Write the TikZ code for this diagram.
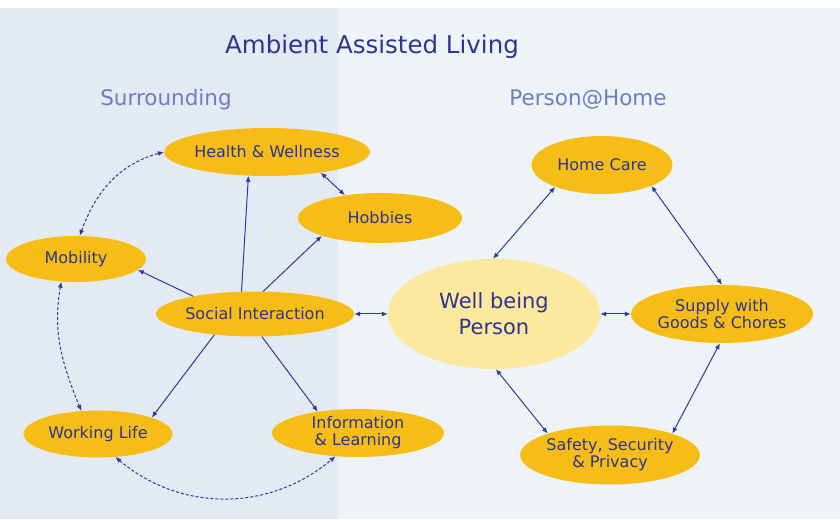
\documentclass[tikz,border=0pt]{standalone}
\usepackage{fontspec}
\setmainfont{DejaVu Sans}
\usetikzlibrary{shapes.geometric,arrows.meta}
\definecolor{navy}{HTML}{2D358F}
\definecolor{softblue}{HTML}{6F7EC2}
\definecolor{aalorange}{HTML}{F7BD17}
\definecolor{aalyellow}{HTML}{FCE89F}
\definecolor{leftpanel}{HTML}{E3EAF3}
\definecolor{rightpanel}{HTML}{EEF3F8}
\definecolor{linkblue}{HTML}{333A96}

\begin{document}
\begin{tikzpicture}[x=1pt,y=1pt,
    area/.style={ellipse,fill=aalorange,text=navy,inner sep=0pt,align=center,
      font=\fontsize{16}{17}\selectfont},
    link/.style={draw=linkblue,line width=1pt,{Latex[length=6pt,width=5pt]}-{Latex[length=6pt,width=5pt]}},
    out link/.style={draw=linkblue,line width=1pt,-{Latex[length=6pt,width=5pt]}},
    loop link/.style={link,densely dashed}]
    \useasboundingbox (0,0) rectangle (840,519);
    \fill[rightpanel] (0,0) rectangle (840,511);
    \fill[leftpanel] (0,0) rectangle (338,511);

    \node[text=navy,font=\fontsize{24.5}{28}\selectfont] (title) at (372,472) {Ambient Assisted Living};
    \node[text=softblue,font=\fontsize{21.5}{24}\selectfont] (surr) at (166,419) {Surrounding};
    \node[text=softblue,font=\fontsize{21.5}{24}\selectfont] (home) at (588,419) {Person@Home};

    \node[area,minimum width=174,minimum height=48] (health) at (267,367) {Health \& Wellness};
    \node[area,minimum width=164,minimum height=50] (hobbies) at (380,301) {Hobbies};
    \node[area,minimum width=140,minimum height=46] (mobility) at (76,260) {Mobility};
    \node[area,minimum width=198,minimum height=45] (social) at (255,205) {Social Interaction};
    \node[area,minimum width=149,minimum height=47] (working) at (98,85) {Working Life};
    \node[area,minimum width=172,minimum height=48] (info) at (358,86) {Information\\\& Learning};

    \node[area,fill=aalyellow,minimum width=212,minimum height=110,
      font=\fontsize{21}{26}\selectfont] (person) at (494,205) {Well being\\Person};
    \node[area,minimum width=141,minimum height=58] (care) at (602,354) {Home Care};
    \node[area,minimum width=182,minimum height=58] (supply) at (722,205) {Supply with\\Goods \& Chores};
    \node[area,minimum width=175,minimum height=59] (safety) at (610,64) {Safety, Security\\\& Privacy};

    \draw[out link] (social.121) -- (health.-128);
    \draw[out link] (social.70) -- (hobbies.197);
    \draw[out link] (social.164) -- (mobility.-10);
    \draw[out link] (social.-153) -- (working.17);
    \draw[out link] (social.-73) -- (info.152);
    \draw[link] (health.-21) -- (hobbies.147);
    \draw[loop link] (mobility.81) to[out=70,in=195] (health.180);
    \draw[loop link] (mobility.-123) to[out=-100,in=112] (working.126);
    \draw[loop link] (working.-53) to[out=-40,in=-140] (info.-134);
    \draw[link] (social.0) -- (person.180);

    \draw[link] (person.91) -- (care.-155);
    \draw[link] (care.-23) -- (supply.90);
    \draw[link] (person.0) -- (supply.180);
    \draw[link] (person.-88) -- (safety.161);
    \draw[link] (supply.-94) -- (safety.19);
\end{tikzpicture}
\end{document}
